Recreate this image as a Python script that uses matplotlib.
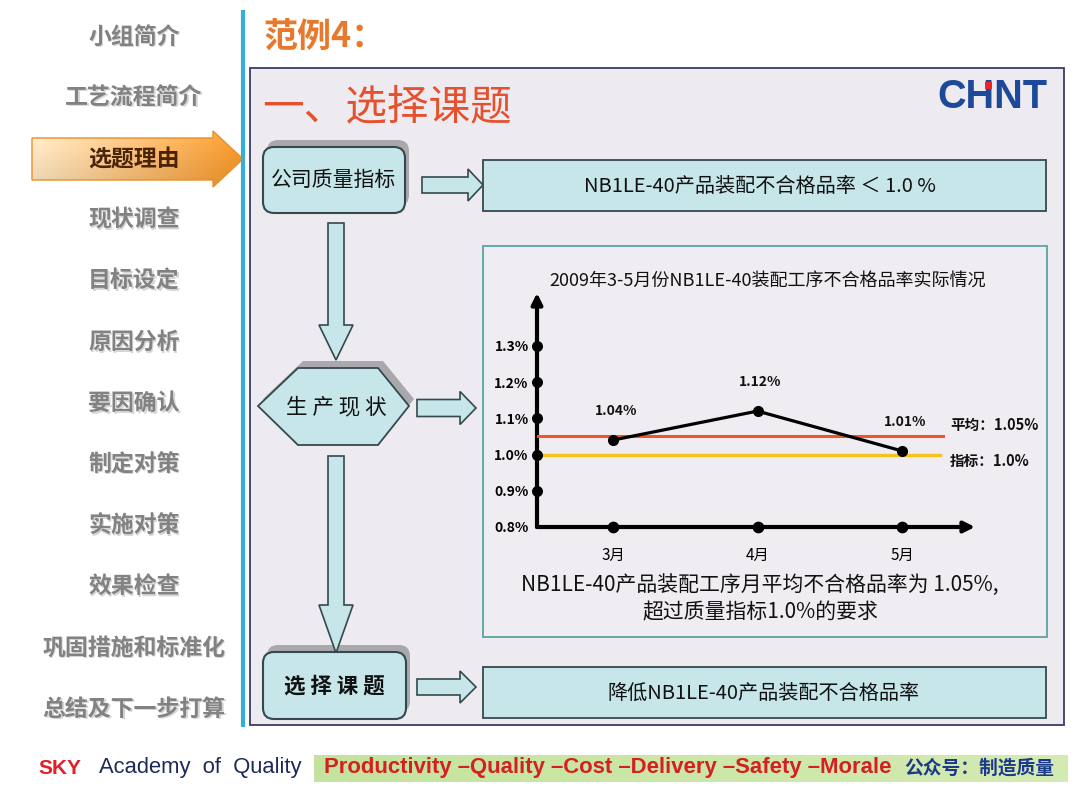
import matplotlib
matplotlib.use('Agg')
import matplotlib.pyplot as plt
from matplotlib.patches import Polygon, FancyBboxPatch, Rectangle
import numpy as np

plt.rcParams['font.family'] = ['Noto Sans CJK SC', 'DejaVu Sans']

# ---------------- data ----------------
months = ['3月', '4月', '5月']
rates = [1.04, 1.12, 1.01]            # 不合格品率 (%)
rate_labels = ['1.04%', '1.12%', '1.01%']
avg_rate = 1.05
target_rate = 1.0
yticks = [0.8, 0.9, 1.0, 1.1, 1.2, 1.3]
ytick_labels = ['0.8%', '0.9%', '1.0%', '1.1%', '1.2%', '1.3%']
chart_title = '2009年3-5月份NB1LE-40装配工序不合格品率实际情况'
caption1 = 'NB1LE-40产品装配工序月平均不合格品率为 1.05%,'
caption2 = '超过质量指标1.0%的要求'
menu = ['小组简介', '工艺流程简介', '选题理由', '现状调查', '目标设定', '原因分析',
        '要因确认', '制定对策', '实施对策', '效果检查', '巩固措施和标准化', '总结及下一步打算']
active_menu = 2

# ---------------- canvas ----------------
W, H = 1080, 786
fig = plt.figure(figsize=(10.8, 7.86), dpi=100)
fig.patch.set_facecolor('white')
bg = fig.add_axes([0, 0, 1, 1])
bg.set_xlim(0, W)
bg.set_ylim(H, 0)
bg.axis('off')


def px_axes(l, t, r, b):
    return [l / W, 1 - b / H, (r - l) / W, (b - t) / H]


BOX_FC = '#c6e6ea'
BOX_EC = '#34494d'
SHADOW = '#a8a8ad'

# ---------------- sidebar ----------------
arrow_pts = [(32, 138), (213, 138), (213, 131), (243, 159), (213, 187), (213, 180), (32, 180)]
arrow_poly = Polygon(arrow_pts, closed=True, fc='none', ec='#e8902a', lw=1.0, zorder=3)
bg.add_patch(arrow_poly)
grad = np.zeros((40, 200, 3))
c0 = np.array([0.99, 0.90, 0.76])
c1 = np.array([0.96, 0.58, 0.14])
for j in range(200):
    t = j / 199
    grad[:, j, :] = c0 * (1 - t) + c1 * t
for i in range(40):
    grad[i] = grad[i] * (0.92 + 0.08 * (1 - i / 39)) + (1 - i / 39) * 0.05
grad = np.clip(grad, 0, 1)
im = bg.imshow(grad, extent=(32, 243, 187, 131), aspect='auto', zorder=2, interpolation='bilinear')
im.set_clip_path(Polygon(arrow_pts, closed=True, transform=bg.transData))
bg.set_xlim(0, W)
bg.set_ylim(H, 0)

for i, s in enumerate(menu):
    y = 37 + i * 61.1
    if i == active_menu:
        bg.text(134, y + 1, s, ha='center', va='center', fontsize=16.5, fontweight='bold',
                color='#4a2408', zorder=4)
    else:
        bg.text(135.5, y + 1.5, s, ha='center', va='center', fontsize=16.5, fontweight='bold',
                color='#d6d6d6', zorder=3)
        bg.text(134, y, s, ha='center', va='center', fontsize=16.5, fontweight='bold',
                color='#828282', zorder=4)

bg.plot([243, 243], [10, 727], color='#34b0d8', lw=3, solid_capstyle='butt', zorder=5)

# ---------------- header ----------------
bg.text(263, 36, '范例4：', ha='left', va='center', fontsize=24.5, fontweight='bold', color='#e8782c')

# main slide panel
bg.add_patch(Rectangle((250, 68), 814, 657, fc='#eeebf0', ec='#3b3b66', lw=1.3, zorder=1))
bg.text(262, 108, '一、选择课题', ha='left', va='center', fontsize=30, color='#e4512e', zorder=3)

# CHNT logo
bg.text(992, 97, 'CHNT', ha='center', va='center', fontsize=28.5, fontweight='bold',
        color='#1d4a98', family='Liberation Sans', zorder=3)
bg.add_patch(Rectangle((985, 82), 7, 7, fc='#e8262a', ec='none', zorder=4))


# ---------------- flow diagram ----------------
def right_arrow(x0, xh, x1, yc, bh, hh):
    pts = [(x0, yc - bh / 2), (xh, yc - bh / 2), (xh, yc - hh / 2), (x1, yc),
           (xh, yc + hh / 2), (xh, yc + bh / 2), (x0, yc + bh / 2)]
    bg.add_patch(Polygon(pts, closed=True, fc=BOX_FC, ec=BOX_EC, lw=1.2, zorder=3))


def down_arrow(y0, yh, y1, xc, bw, hw):
    pts = [(xc - bw / 2, y0), (xc + bw / 2, y0), (xc + bw / 2, yh), (xc + hw / 2, yh), (xc, y1),
           (xc - hw / 2, yh), (xc - bw / 2, yh)]
    bg.add_patch(Polygon(pts, closed=True, fc=BOX_FC, ec=BOX_EC, lw=1.2, zorder=3))


def round_box(x0, y0, x1, y1, shadow=True):
    if shadow:
        bg.add_patch(FancyBboxPatch((x0 + 4, y0 - 7), x1 - x0, y1 - y0,
                                    boxstyle='round,pad=0,rounding_size=11',
                                    fc=SHADOW, ec='none', zorder=2))
    bg.add_patch(FancyBboxPatch((x0, y0), x1 - x0, y1 - y0,
                                boxstyle='round,pad=0,rounding_size=11',
                                fc=BOX_FC, ec=BOX_EC, lw=1.5, zorder=3))


# box 1
round_box(263, 147, 405, 213)
bg.text(334, 180, '公司质量指标', ha='center', va='center', fontsize=15, color='#111111', zorder=4)
right_arrow(422, 468, 483, 185, 16, 32)
bg.add_patch(Rectangle((483, 160), 563, 51, fc=BOX_FC, ec=BOX_EC, lw=1.3, zorder=3))
bg.text(760, 186, 'NB1LE-40产品装配不合格品率 ＜ 1.0 %', ha='center', va='center',
        fontsize=14.5, color='#111111', zorder=4)

# down arrow 1
down_arrow(223, 325, 360, 336, 16, 34)

# hexagon
hex_pts = [(258, 406), (298, 368), (378, 368), (409, 406), (378, 445), (298, 445)]
bg.add_patch(Polygon([(x + 5, y - 7) for x, y in hex_pts], closed=True, fc=SHADOW, ec='none', zorder=2))
bg.add_patch(Polygon(hex_pts, closed=True, fc=BOX_FC, ec=BOX_EC, lw=1.3, zorder=3))
bg.text(336, 407, '生 产 现 状', ha='center', va='center', fontsize=15.5, color='#111111', zorder=4)
right_arrow(417, 460, 476, 408, 17, 33)

# chart panel
bg.add_patch(Rectangle((483, 246), 564, 391, fc='#f0edf2', ec='#5aa3a3', lw=1.3, zorder=2))

# down arrow 2
down_arrow(456, 605, 653, 336, 16, 34)

# box 3
round_box(263, 652, 406, 719)
bg.text(334, 686, '选 择 课 题', ha='center', va='center', fontsize=15.5, fontweight='bold',
        color='#111111', zorder=4)
right_arrow(417, 460, 476, 687, 16, 32)
bg.add_patch(Rectangle((483, 667), 563, 51, fc=BOX_FC, ec=BOX_EC, lw=1.3, zorder=3))
bg.text(764, 693, '降低NB1LE-40产品装配不合格品率', ha='center', va='center',
        fontsize=14.5, color='#111111', zorder=4)

# ---------------- chart ----------------
bg.text(768, 281, chart_title, ha='center', va='center', fontsize=13, color='#111111', zorder=4)
bg.text(760, 585, caption1, ha='center', va='center', fontsize=15, color='#111111', zorder=4)
bg.text(760, 612, caption2, ha='center', va='center', fontsize=15, color='#111111', zorder=4)

ax = fig.add_axes(px_axes(537, 293, 975, 527))
ax.patch.set_alpha(0)
xpos = np.arange(len(months))
x_left, x_right = -0.526, 2.505
y_bot, y_top = 0.8, 1.446
ax.set_xlim(x_left, x_right)
ax.set_ylim(y_bot, y_top)
for s in ax.spines.values():
    s.set_visible(False)

ax.annotate('', xy=(x_left, y_top), xytext=(x_left, y_bot), annotation_clip=False,
            arrowprops=dict(arrowstyle='-|>', lw=3, color='black', mutation_scale=16,
                            shrinkA=0, shrinkB=0))
ax.annotate('', xy=(x_right, y_bot), xytext=(x_left, y_bot), annotation_clip=False,
            arrowprops=dict(arrowstyle='-|>', lw=3, color='black', mutation_scale=16,
                            shrinkA=0, shrinkB=0))

ax.plot([x_left, 2.284], [avg_rate, avg_rate], color='#f0552a', lw=2.2, zorder=3)
ax.plot([x_left, 2.263], [target_rate, target_rate], color='#f6c21e', lw=2.4, zorder=3)

ax.plot(xpos, rates, color='black', lw=2.3, marker='o', ms=7, zorder=5)
ax.scatter([x_left] * (len(yticks) - 1), yticks[1:], s=48, color='black', zorder=6, clip_on=False)
ax.scatter(xpos, [y_bot] * len(xpos), s=55, color='black', zorder=6, clip_on=False)

for x, y, lab in zip(xpos, rates, rate_labels):
    ax.annotate(lab, (x, y), xytext=(2, 21), textcoords='offset points', ha='center', va='center',
                fontsize=10, fontweight='bold', color='#111111')

ax.annotate(f'平均：{avg_rate:.2f}%', (2.332, avg_rate), xytext=(0, 8.5), textcoords='offset points',
            ha='left', va='center', fontsize=10.5, fontweight='bold', color='#111111',
            annotation_clip=False)
ax.annotate(f'指标：{target_rate:.1f}%', (2.332, target_rate), xytext=(0, -4.5), textcoords='offset points',
            ha='left', va='center', fontsize=10.5, fontweight='bold', color='#111111',
            annotation_clip=False)

ax.set_yticks(yticks, labels=ytick_labels)
ax.set_xticks(xpos, labels=months)
ax.tick_params(axis='y', length=0, pad=6, labelsize=10)
ax.tick_params(axis='x', length=0, pad=14, labelsize=11)
for t in ax.get_yticklabels():
    t.set_fontweight('bold')

# ---------------- footer ----------------
bg.text(38, 768, 'SKY', ha='left', va='center', fontsize=15, fontweight='bold',
        color='#e0202a', family='Liberation Sans')
bg.text(99, 768, 'Academy  of  Quality', ha='left', va='center', fontsize=15.8,
        color='#1c2a5a', family='Liberation Sans')
band = np.zeros((2, 100, 3))
for j in range(100):
    t = j / 99
    band[:, j, :] = np.array([0.77, 0.89, 0.62]) * (1 - t) + np.array([0.83, 0.92, 0.70]) * t
bg.imshow(band, extent=(314, 1068, 782, 755), aspect='auto', zorder=1, interpolation='bilinear')
bg.set_xlim(0, W)
bg.set_ylim(H, 0)
bg.text(324, 768, 'Productivity –Quality –Cost –Delivery –Safety –Morale', ha='left', va='center',
        fontsize=15.9, fontweight='bold', color='#d42020', family='Liberation Sans', zorder=3)
bg.text(904, 768, '公众号：制造质量', ha='left', va='center', fontsize=13.5, fontweight='bold',
        color='#1d3a8a', zorder=3)

fig.savefig('out.png', dpi=100)
